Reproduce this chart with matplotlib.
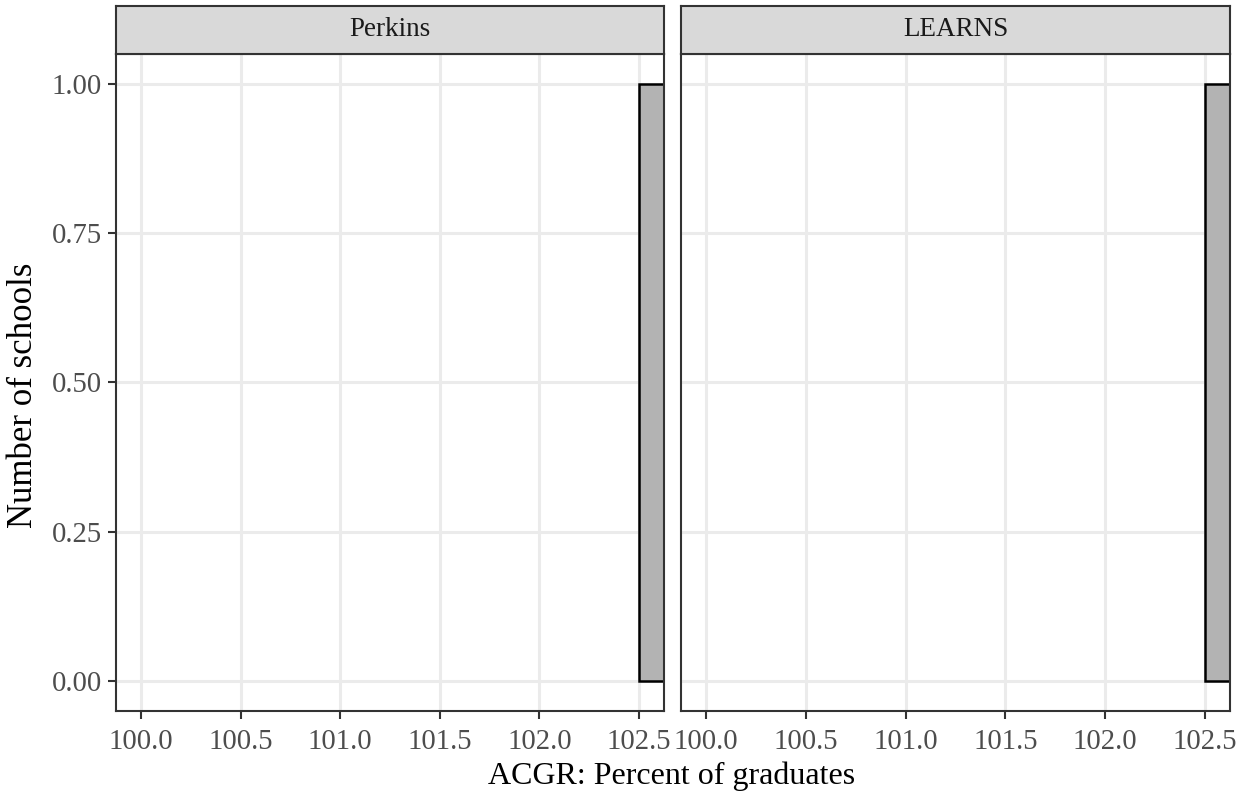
import numpy as np
import matplotlib.pyplot as plt

# data: one histogram bin per facet
facets = ["Perkins", "LEARNS"]
bin_left = [102.5, 102.5]
bin_width = 0.5
counts = [1, 1]

x_ticks = [100.0, 100.5, 101.0, 101.5, 102.0, 102.5]
y_ticks = [0.00, 0.25, 0.50, 0.75, 1.00]

plt.rcParams['font.family'] = ['Liberation Serif', 'DejaVu Serif']

W, H = 1249, 794
fig = plt.figure(figsize=(W / 100, H / 100), dpi=100)

panels = [(116, 664), (681, 1230)]
top, bottom = 54, 711
strip_top = 6

dark = '#333333'
for i, (l, r) in enumerate(panels):
    ax = fig.add_axes([l / W, 1 - bottom / H, (r - l) / W, (bottom - top) / H])
    ax.set_xlim(99.875, 102.625)
    ax.set_ylim(-0.05, 1.05)
    ax.set_xticks(x_ticks)
    ax.set_xticklabels([f"{v:.1f}" for v in x_ticks])
    ax.set_yticks(y_ticks)
    if i == 0:
        ax.set_yticklabels([f"{v:.2f}" for v in y_ticks])
    else:
        ax.tick_params(axis='y', left=False, labelleft=False)
    ax.grid(True, color='#EBEBEB', linewidth=2.2)
    ax.set_axisbelow(True)
    ax.bar(bin_left[i], counts[i], width=bin_width, align='edge',
           color='#B3B3B3', edgecolor='black', linewidth=1.8, zorder=3)
    for s in ax.spines.values():
        s.set_color(dark)
        s.set_linewidth(1.5)
        s.set_zorder(5)
    ax.tick_params(colors=dark, width=1.5, length=5.5, labelsize=20.7,
                   labelcolor='#4D4D4D')
    ax.tick_params(axis='x', pad=7.5)
    ax.tick_params(axis='y', pad=4.5)

    sax = fig.add_axes([l / W, 1 - top / H, (r - l) / W, (top - strip_top) / H])
    sax.set_facecolor('#D9D9D9')
    sax.set_xticks([])
    sax.set_yticks([])
    for s in sax.spines.values():
        s.set_color(dark)
        s.set_linewidth(1.5)
    sax.text(0.5, 0.5, facets[i], ha='center', va='center', fontsize=19.5,
             color='#1A1A1A', transform=sax.transAxes)

fig.text(672 / W, 1 - 776 / H, "ACGR: Percent of graduates",
         ha='center', va='center', fontsize=23, color='black')
fig.text(24 / W, 1 - 395 / H, "Number of schools", ha='center', va='center',
         rotation=90, fontsize=25, color='black')

fig.savefig("out.png", dpi=100)
